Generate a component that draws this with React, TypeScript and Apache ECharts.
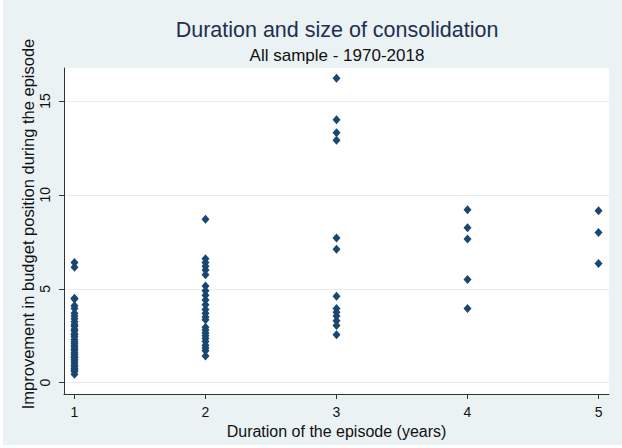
import React, { useEffect, useRef } from "react";
import * as echarts from "echarts";

const titleText = "Duration and size of consolidation";
const subtitleText = "All sample - 1970-2018";
const xAxisTitle = "Duration of the episode (years)";
const yAxisTitle = "Improvement in budget position during the episode";

const xTicks = [1, 2, 3, 4, 5];
const yTicks = [0, 5, 10, 15];

// Improvement in budget position, by duration of the episode (years)
const duration1 = [6.4, 6.15, 4.5, 4.45, 4.1, 3.95, 3.7, 3.55, 3.4, 3.25, 3.1, 3.0, 2.85, 2.75, 2.6, 2.55, 2.45, 2.3, 2.2, 2.1, 2.0, 1.9, 1.8, 1.72, 1.6, 1.5, 1.4, 1.35, 1.25, 1.15, 1.05, 0.95, 0.85, 0.75, 0.68, 0.6, 0.45];
const duration2 = [8.7, 6.6, 6.4, 6.2, 6.0, 5.75, 5.15, 4.9, 4.65, 4.4, 4.15, 3.9, 3.7, 3.5, 3.35, 2.95, 2.8, 2.65, 2.5, 2.35, 2.2, 2.0, 1.85, 1.7, 1.42];
const duration3 = [16.2, 14.0, 13.3, 12.9, 7.7, 7.1, 4.6, 3.95, 3.75, 3.55, 3.3, 3.05, 2.55];
const duration4 = [9.2, 8.25, 7.65, 5.5, 3.95];
const duration5 = [9.15, 8.0, 6.35];

const groups = [duration1, duration2, duration3, duration4, duration5];

export default function App() {
  const ref = useRef<HTMLDivElement>(null);
  useEffect(() => {
    if (!ref.current) return;
    const chart = echarts.init(ref.current, undefined, { renderer: "svg" });
    const data: number[][] = [];
    groups.forEach((vals, i) => {
      vals.forEach((v) => data.push([xTicks[i], v]));
    });
    const font = "'Liberation Sans', Arial, sans-serif";
    chart.setOption({
      animation: false,
      backgroundColor: "#eaf2f3",
      textStyle: { fontFamily: font },
      grid: { left: 61, right: 13, top: 68, bottom: 51, show: true, backgroundColor: "#ffffff", borderWidth: 0 },
      graphic: [
        {
          type: "text",
          x: 334,
          y: 30,
          style: { text: titleText, fill: "#232f4f", font: `21.5px ${font}`, textAlign: "center", textVerticalAlign: "middle" },
        },
        {
          type: "text",
          x: 334,
          y: 55.5,
          style: { text: subtitleText, fill: "#111111", font: `17px ${font}`, textAlign: "center", textVerticalAlign: "middle" },
        },
        {
          type: "text",
          x: 25,
          y: 224,
          rotation: Math.PI / 2,
          style: { text: yAxisTitle, fill: "#111111", font: `16.5px ${font}`, textAlign: "center", textVerticalAlign: "middle" },
        },
      ],
      xAxis: {
        type: "value",
        min: 0.92,
        max: 5.08,
        name: xAxisTitle,
        nameLocation: "middle",
        nameGap: 25,
        nameTextStyle: { color: "#111111", fontSize: 16, fontFamily: font },
        axisLine: { show: true, onZero: false, lineStyle: { color: "#333333", width: 1 } },
        axisTick: { show: true, length: 5, customValues: xTicks, lineStyle: { color: "#333333" } },
        axisLabel: { customValues: xTicks, color: "#111111", fontSize: 14, margin: 11, fontFamily: font },
        splitLine: { show: false },
      },
      yAxis: {
        type: "value",
        min: -0.6,
        max: 16.75,
        axisLine: { show: true, onZero: false, lineStyle: { color: "#333333", width: 1 } },
        axisTick: { show: true, length: 5, customValues: yTicks, lineStyle: { color: "#333333" } },
        axisLabel: { customValues: yTicks, rotate: 90, color: "#111111", fontSize: 14, margin: 12, fontFamily: font },
        splitLine: { show: true, lineStyle: { color: "#e4eef0", width: 1 } },
      },
      series: [
        {
          type: "scatter",
          data,
          symbol: "diamond",
          symbolSize: [8, 9],
          itemStyle: { color: "#1a476f", opacity: 1 },
        },
      ],
    });
    return () => chart.dispose();
  }, []);
  return (
    <div style={{ position: "fixed", left: 0, top: 0, width: 622, height: 448, background: "#ffffff" }}>
      <div ref={ref} style={{ position: "absolute", left: 3, top: 0, width: 619, height: 445 }} />
    </div>
  );
}
